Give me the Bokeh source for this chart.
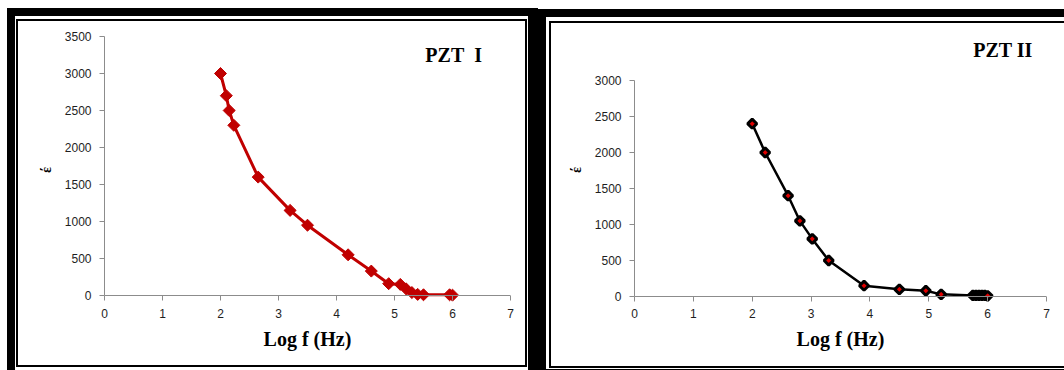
from bokeh.plotting import figure
from bokeh.layouts import row
from bokeh.models import Range1d, FixedTicker, Label, Span
from bokeh.embed import file_html
from bokeh.resources import INLINE
import math

# ---------------- data ----------------
x_ticks = [0, 1, 2, 3, 4, 5, 6, 7]

pzt1_logf = [2.0, 2.1, 2.15, 2.23, 2.65, 3.2, 3.5, 4.2, 4.6, 4.9, 5.1, 5.2, 5.3, 5.4, 5.5, 5.95, 6.0]
pzt1_eps = [3000, 2700, 2500, 2300, 1600, 1150, 950, 550, 330, 160, 150, 90, 40, 15, 10, 10, 5]
y1_ticks = [0, 500, 1000, 1500, 2000, 2500, 3000, 3500]

pzt2_logf = [2.0, 2.22, 2.61, 2.81, 3.02, 3.3, 3.9, 4.5, 4.95, 5.21, 5.75, 5.8, 5.85, 5.9, 5.95, 6.0]
pzt2_eps = [2400, 2000, 1400, 1050, 800, 500, 150, 100, 80, 30, 15, 15, 15, 15, 15, 10]
y2_ticks = [0, 500, 1000, 1500, 2000, 2500, 3000]

title1 = "PZT\u00a0 I"
title2 = "PZT II"
x_label = "Log f (Hz)"
y_label = "\u03ad"

SERIF = "Liberation Serif"
SANS = "Liberation Sans"
H = 370
AXIS_GREY = "#8c8c8c"


def make(width, y0, y1, ymax, yticks, mbl, mbr, tick_in, tick_out, frame_css):
    p = figure(width=width, height=H, output_backend="svg", toolbar_location=None,
               x_range=Range1d(0, 7), y_range=Range1d(y0, y1),
               min_border_left=mbl, min_border_right=mbr,
               min_border_top=36, min_border_bottom=67)
    p.outline_line_color = None
    p.grid.visible = False
    p.background_fill_color = None
    p.border_fill_color = None
    p.styles = {"box-shadow": frame_css}

    for ax in (p.xaxis[0], p.yaxis[0]):
        ax.axis_line_color = AXIS_GREY
        ax.major_tick_line_color = AXIS_GREY
        ax.minor_tick_line_color = None
        ax.major_label_text_font = SANS
        ax.major_label_text_font_size = "12px"
        ax.major_label_text_color = "#1e1e1e"
        ax.axis_label_text_font = SERIF
        ax.axis_label_text_font_style = "bold"
        ax.axis_label_text_color = "black"

    # x axis: its line is drawn at y = 0 by a span, ticks reach up to it
    p.xaxis.ticker = FixedTicker(ticks=x_ticks)
    p.xaxis.bounds = (0, 7)
    p.xaxis.axis_line_color = None
    p.xaxis.major_tick_in = tick_in
    p.xaxis.major_tick_out = tick_out
    p.xaxis.major_label_standoff = 5
    p.xaxis.axis_label = x_label
    p.xaxis.axis_label_text_font_size = "20px"
    p.xaxis.axis_label_standoff = 7
    p.add_layout(Span(location=0, dimension="width", line_color=AXIS_GREY, line_width=1))

    p.yaxis.ticker = FixedTicker(ticks=yticks)
    p.yaxis.bounds = (0, ymax)
    p.yaxis.major_tick_in = 0
    p.yaxis.major_tick_out = 5
    p.yaxis.major_label_standoff = 8
    p.yaxis.axis_label = y_label
    p.yaxis.axis_label_text_font_size = "14px"
    p.yaxis.axis_label_standoff = 8
    return p


left_css = ", ".join([
    "inset 7px 8px 0 0 white",
    "inset 15px 16px 0 0 black", "inset -10px 0 0 0 black",
    "inset 16px 19px 0 0 white", "inset -11px -3px 0 0 white",
    "inset 18px 21px 0 0 black", "inset -13px -5px 0 0 black",
])
right_css = ", ".join([
    "inset 0 9px 0 0 white",
    "inset 8px 17px 0 0 black", "inset 0 -1px 0 0 black",
    "inset 11px 21px 0 0 white", "inset 0 -2px 0 0 white",
    "inset 13px 23px 0 0 black", "inset 0 -4px 0 0 black",
])

# ---------------- left panel ----------------
p1 = make(538, -108, 3500, 3500, y1_ticks, 104, 28, 8, -3, left_css)
p1.line(pzt1_logf, pzt1_eps, line_color="#C00000", line_width=3)
p1.scatter(pzt1_logf, pzt1_eps, marker="square", angle=math.pi / 4, size=8.5,
           fill_color="#C00000", line_color="#C00000", line_width=1)
p1.add_layout(Label(x=6.02, y=3250, text=title1, text_font=SERIF,
                    text_font_style="bold", text_font_size="20px",
                    text_align="center", text_baseline="middle", text_color="black"))

# ---------------- right panel ----------------
p2 = make(526, -97, 3611, 3000, y2_ticks, 96, 18, 7, -2, right_css)
p2.line(pzt2_logf, pzt2_eps, line_color="black", line_width=2.5)
p2.scatter(pzt2_logf, pzt2_eps, marker="square", angle=math.pi / 4, size=6.5,
           fill_color="#E00000", line_color="black", line_width=3)
p2.add_layout(Label(x=6.26, y=3430, text=title2, text_font=SERIF,
                    text_font_style="bold", text_font_size="20px",
                    text_align="center", text_baseline="middle", text_color="black"))

layout = row(p1, p2)
open("out.html", "w").write(file_html(layout, INLINE))
